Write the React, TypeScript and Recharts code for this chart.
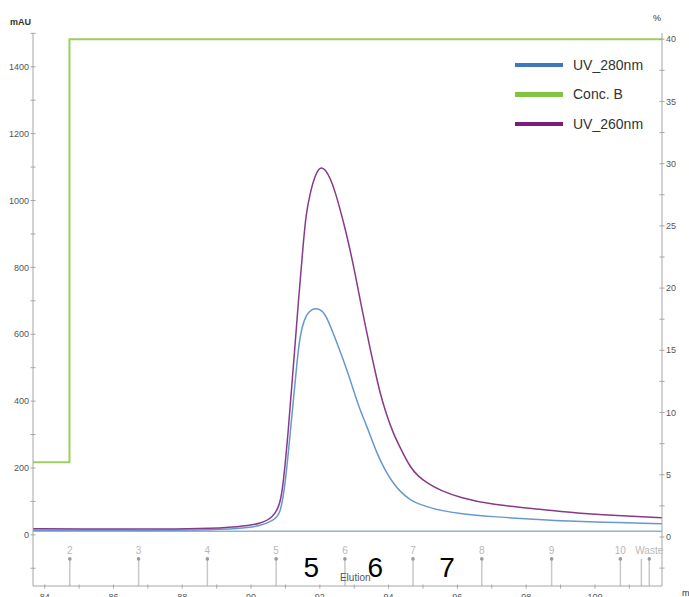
import React from 'react';
import { LineChart, Line, XAxis, YAxis, ReferenceLine, ReferenceDot } from 'recharts';

// ---- data ----
const uv280Time = [83.66, 85, 87, 88.52, 89.69, 90.27, 90.65, 90.85, 91.0, 91.14, 91.28, 91.38, 91.48, 91.62, 91.77, 91.91, 92.06, 92.2, 92.5, 92.79, 93.08, 93.17, 93.38, 93.67, 93.9, 94.13, 94.33, 94.62, 94.86, 95.12, 95.5, 96.08, 97.03, 98.02, 98.98, 100.14, 101.95];
const uv280 = [14, 14, 13, 14, 18, 26, 44, 58, 155, 305, 454, 563, 623, 661, 675, 678, 671, 653, 574, 494, 400, 374, 322, 240, 193, 155, 130, 105, 93, 84, 73, 63, 54, 48, 42, 38, 33];

const uv260Time = [83.66, 85, 87, 88.52, 89.69, 90.27, 90.65, 90.85, 90.94, 91.08, 91.23, 91.38, 91.52, 91.6, 91.72, 91.86, 92.01, 92.16, 92.3, 92.45, 92.59, 92.74, 92.88, 93.03, 93.17, 93.32, 93.47, 93.64, 93.75, 93.93, 94.13, 94.33, 94.62, 94.86, 95.12, 95.5, 96.08, 97.03, 98.02, 98.98, 100.14, 101.95];
const uv260 = [18, 18, 17, 18, 24, 33, 52, 92, 155, 305, 503, 703, 873, 960, 1023, 1075, 1102, 1093, 1068, 1025, 973, 915, 852, 780, 703, 628, 553, 475, 425, 362, 305, 262, 203, 175, 155, 133, 111, 90, 81, 69, 60, 51];

const baseTime = [83.66, 101.95];
const baseVals = [11, 11];

const concTime = [83.66, 84.72, 101.95];
const concVals = [6, 40, 40];

const fracPos = [84.73, 86.73, 88.73, 90.73, 92.73, 94.71, 96.71, 98.74, 100.74, 101.58];
const fracLabels = ['2', '3', '4', '5', '6', '7', '8', '9', '10', 'Waste'];
const wasteExtraPos = [101.35];

const bigLabelPos = [91.75, 93.61, 95.7];
const bigLabels = ['5', '6', '7'];

const xTicks = [84, 85, 86, 87, 88, 89, 90, 91, 92, 93, 94, 95, 96, 97, 98, 99, 100, 101];
const leftTicks = [-100, 0, 100, 200, 300, 400, 500, 600, 700, 800, 900, 1000, 1100, 1200, 1300, 1400, 1500];
const rightTicks = [-2.5, 0, 2.5, 5, 7.5, 10, 12.5, 15, 17.5, 20, 22.5, 25, 27.5, 30, 32.5, 35, 37.5, 40];

const legendNames = ['UV_280nm', 'Conc. B', 'UV_260nm'];
const legendColors = ['#3f77bf', '#82c341', '#7b1c7e'];

const toData = (ts: number[], vs: number[]) => ts.map((t, i) => ({ t, v: vs[i] }));
const uv280Data = toData(uv280Time, uv280);
const uv260Data = toData(uv260Time, uv260);
const baseData = toData(baseTime, baseVals);
const concData = toData(concTime, concVals);

const AXIS = '#a6a6a6';
const TICKTXT = '#555';
const FONT = '"Liberation Sans", Arial, sans-serif';

const LeftTick = (props: any) => {
  const { x, y, payload } = props;
  const v = payload.value;
  return (
    <g>
      <line x1={x - 2.5} x2={x + 2.5} y1={y} y2={y} stroke={AXIS} />
      {v % 200 === 0 ? (
        <text x={x - 4} y={y} dy="0.35em" textAnchor="end" fontSize={9} fill={TICKTXT} fontFamily={FONT}>{v}</text>
      ) : null}
    </g>
  );
};

const RightTick = (props: any) => {
  const { x, y, payload } = props;
  const v = payload.value;
  return (
    <g>
      <line x1={x - 2.5} x2={x + 2.5} y1={y} y2={y} stroke={AXIS} />
      {v % 5 === 0 ? (
        <text x={x + 4} y={y} dy="0.35em" textAnchor="start" fontSize={9} fill={TICKTXT} fontFamily={FONT}>{v}</text>
      ) : null}
    </g>
  );
};

const BottomTick = (props: any) => {
  const { x, y, payload } = props;
  const v = payload.value;
  return (
    <g>
      <line x1={x} x2={x} y1={y - 1.5} y2={y + 2.5} stroke={AXIS} />
      {v % 2 === 0 ? (
        <text x={x} y={y + 14} textAnchor="middle" fontSize={9} fill={TICKTXT} fontFamily={FONT}>{v}</text>
      ) : null}
    </g>
  );
};

const mauLabel = (props: any) => {
  const vb = props.viewBox || { x: 0, y: 33, width: 33, height: 553 };
  return (
    <text x={vb.x + vb.width - 2} y={vb.y - 8} textAnchor="end" fontSize={9} fontWeight={600} fill="#333" fontFamily={FONT}>mAU</text>
  );
};

const pctLabel = (props: any) => {
  const vb = props.viewBox || { x: 662, y: 33, width: 27, height: 553 };
  return (
    <text x={vb.x - 1} y={vb.y - 12} textAnchor="end" fontSize={9} fill="#333" fontFamily={FONT}>%</text>
  );
};

const mlLabel = (props: any) => {
  const vb = props.viewBox || { x: 33, y: 586, width: 629, height: 11 };
  return (
    <text x={vb.x + vb.width + 20} y={vb.y + 10} textAnchor="start" fontSize={9} fill="#333" fontFamily={FONT}>ml</text>
  );
};

export default function App() {
  return (
    <div style={{ position: 'absolute', left: 0, top: 0, width: 689, height: 597, background: '#fff', fontFamily: FONT }}>
      <LineChart width={689} height={597} margin={{ top: 33, right: 0, bottom: 0, left: 0 }}>
        <XAxis
          dataKey="t"
          type="number"
          domain={[83.66, 101.95]}
          allowDataOverflow
          ticks={xTicks}
          interval={0}
          height={11}
          tickSize={0}
          tickMargin={0}
          tickLine={false}
          axisLine={{ stroke: AXIS }}
          tick={BottomTick}
          label={mlLabel}
        />
        <YAxis
          yAxisId="left"
          orientation="left"
          type="number"
          domain={[-153, 1501]}
          allowDataOverflow
          ticks={leftTicks}
          interval={0}
          width={33}
          tickSize={0}
          tickMargin={0}
          tickLine={false}
          axisLine={{ stroke: AXIS }}
          tick={LeftTick}
          label={mauLabel}
        />
        <YAxis
          yAxisId="right"
          orientation="right"
          type="number"
          domain={[-3.94, 40.5]}
          allowDataOverflow
          ticks={rightTicks}
          interval={0}
          width={27}
          tickSize={0}
          tickMargin={0}
          tickLine={false}
          axisLine={{ stroke: AXIS }}
          tick={RightTick}
          label={pctLabel}
        />

        {fracPos.map((f, i) => (
          <ReferenceLine
            key={'fl' + i}
            yAxisId="left"
            segment={[{ x: f, y: -153 }, { x: f, y: -72 }]}
            stroke="#c8c8c8"
            strokeWidth={1.5}
            ifOverflow="visible"
          />
        ))}
        {wasteExtraPos.map((f, i) => (
          <ReferenceLine
            key={'wl' + i}
            yAxisId="left"
            segment={[{ x: f, y: -153 }, { x: f, y: -72 }]}
            stroke="#c8c8c8"
            strokeWidth={1.5}
            ifOverflow="visible"
          />
        ))}
        {fracPos.map((f, i) => (
          <ReferenceDot
            key={'fd' + i}
            yAxisId="left"
            x={f}
            y={-72}
            r={1.8}
            fill="#9a9a9a"
            stroke="none"
            ifOverflow="visible"
            label={{ value: fracLabels[i], position: 'top', offset: 3, fill: '#b8b8b8', fontSize: 10, fontFamily: FONT }}
          />
        ))}

        <Line data={concData} yAxisId="right" dataKey="v" type="stepAfter" stroke="#9ccf5e" strokeWidth={2} dot={false} isAnimationActive={false} name="Conc. B" />
        <Line data={baseData} yAxisId="left" dataKey="v" type="linear" stroke="#8fb2da" strokeWidth={1.5} dot={false} isAnimationActive={false} name="UV_280nm base" />
        <Line data={uv280Data} yAxisId="left" dataKey="v" type="basis" stroke="#6898cf" strokeWidth={1.5} dot={false} isAnimationActive={false} name="UV_280nm" />
        <Line data={uv260Data} yAxisId="left" dataKey="v" type="basis" stroke="#873a8a" strokeWidth={1.5} dot={false} isAnimationActive={false} name="UV_260nm" />

        <ReferenceDot
          yAxisId="left"
          x={93.03}
          y={-126}
          r={1}
          fill="none"
          stroke="none"
          ifOverflow="visible"
          label={{ value: 'Elution', position: 'center', fill: '#555', fontSize: 10, fontFamily: FONT }}
        />
        {bigLabelPos.map((p, i) => (
          <ReferenceDot
            key={'bl' + i}
            yAxisId="left"
            x={p}
            y={-96}
            r={1}
            fill="none"
            stroke="none"
            ifOverflow="visible"
            label={{ value: bigLabels[i], position: 'center', fill: '#000', fontSize: 28, fontFamily: FONT }}
          />
        ))}
      </LineChart>

      <div style={{ position: 'absolute', left: 515, top: 50, width: 160 }}>
        {legendNames.map((n, i) => (
          <div key={n} style={{ display: 'flex', alignItems: 'center', height: 29.5 }}>
            <div style={{ width: 48, height: 4.5, background: legendColors[i], marginRight: 10 }} />
            <span style={{ fontSize: 14, color: '#333', fontFamily: FONT, lineHeight: '16px' }}>{n}</span>
          </div>
        ))}
      </div>
    </div>
  );
}
